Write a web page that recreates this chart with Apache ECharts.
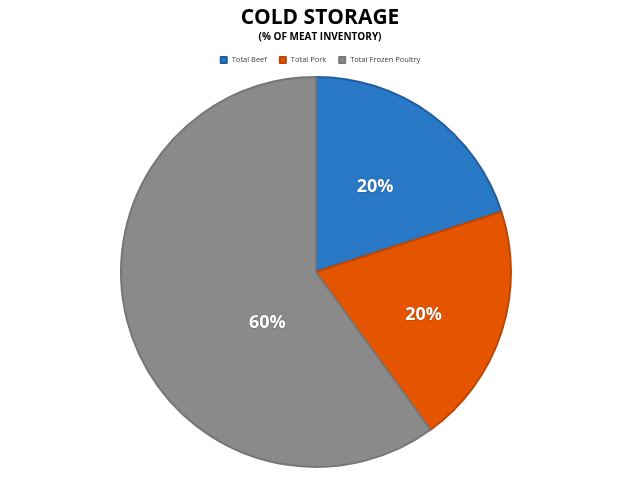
<!DOCTYPE html>
<html>
<head>
<meta charset="utf-8">
<script src="https://cdn.jsdelivr.net/npm/echarts@6/dist/echarts.min.js"></script>
<style>
  html, body { margin: 0; padding: 0; background: #fff; }
  #main { width: 640px; height: 480px; }
</style>
</head>
<body>
<div id="main"></div>
<script>
var categories = ['Total Beef', 'Total Pork', 'Total Frozen Poultry'];
var shares = [20, 20, 60];
var fills = ['#2878c6', '#e55400', '#8a8a8a'];
var borders = ['#1f5f9f', '#c04600', '#767676'];
var labelOffsets = [[0, -4], [12, 12], [47, 20]];

(function () {
    var myChart = echarts.init(document.getElementById('main'));
    var data = categories.map(function (name, i) {
        return {
            name: name,
            value: shares[i],
            itemStyle: { color: fills[i], borderColor: borders[i], borderWidth: 2 },
            label: { offset: labelOffsets[i] }
        };
    });
    var option = {
        backgroundColor: '#fff',
        animation: false,
        title: {
            text: 'COLD STORAGE',
            subtext: '(% OF MEAT INVENTORY)',
            left: 'center',
            top: 3,
            itemGap: 3,
            textStyle: { fontFamily: 'Open Sans', fontWeight: 'bold', fontSize: 21, color: '#000' },
            subtextStyle: { fontFamily: 'Open Sans', fontWeight: 'bold', fontSize: 10, color: '#000' }
        },
        legend: {
            data: categories,
            top: 51,
            left: 'center',
            icon: 'rect',
            itemWidth: 6,
            itemHeight: 6,
            itemGap: 12,
            textStyle: { fontFamily: 'Open Sans', fontSize: 7.5, color: '#404040' }
        },
        series: [{
            type: 'pie',
            center: [316, 272],
            radius: 195,
            startAngle: 90,
            clockwise: true,
            data: data,
            label: {
                show: true,
                position: 'inside',
                formatter: '{c}%',
                fontFamily: 'Open Sans',
                fontWeight: 'bold',
                fontSize: 18,
                color: '#fff',
                textBorderColor: 'rgba(0,0,0,0.25)',
                textBorderWidth: 1
            },
            labelLine: { show: false },
            emphasis: { disabled: true }
        }]
    };
    myChart.setOption(option);
})();
</script>
</body>
</html>
